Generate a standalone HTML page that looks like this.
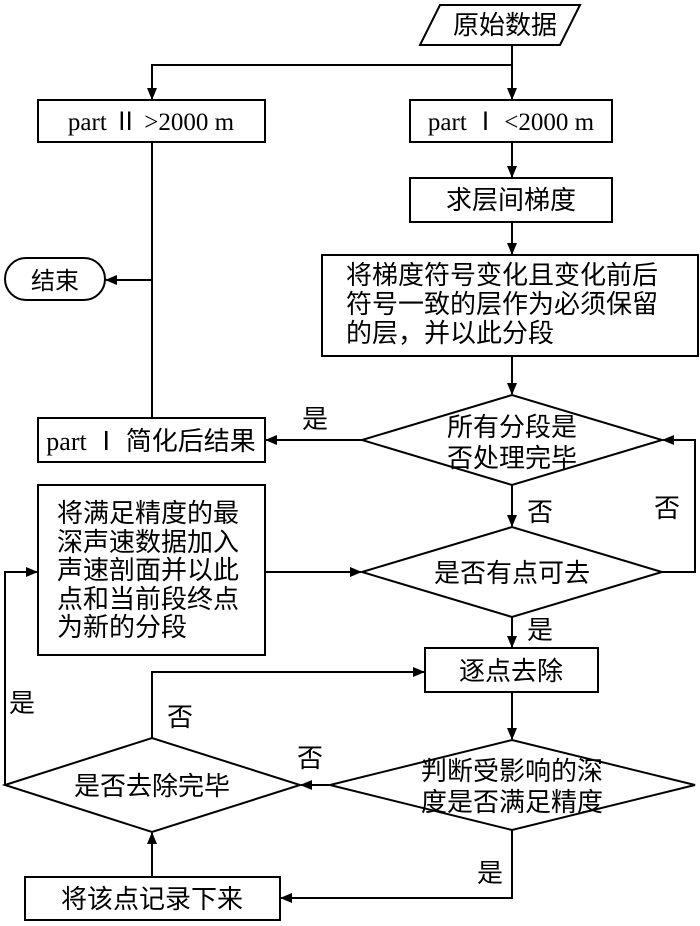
<!DOCTYPE html>
<html><head><meta charset="utf-8"><style>
body{margin:0;background:#fff}
svg text{font-family:"Liberation Serif","Noto Sans CJK SC",sans-serif;font-size:26px;fill:#000}
</style></head><body>
<svg width="700" height="921" viewBox="0 0 700 921" xmlns="http://www.w3.org/2000/svg">
<defs><marker id="a" markerWidth="12" markerHeight="10" refX="11" refY="5" orient="auto" markerUnits="userSpaceOnUse"><path d="M0,0 L12,5 L0,10 Z" fill="#000"/></marker></defs>
<g fill="none" stroke="#000" stroke-width="2">
<polygon points="440,5 580,5 560,45 420,45"/>
<rect x="38" y="100" width="227" height="42"/>
<rect x="410" y="100" width="202" height="42"/>
<rect x="410" y="178" width="202" height="44"/>
<rect x="322" y="255" width="376" height="101"/>
<rect x="5" y="258" width="100" height="42" rx="21"/>
<polygon points="362,440 512,395 662,440 512,485"/>
<rect x="38" y="418" width="227" height="44"/>
<polygon points="362,572 512,527 662,572 512,617"/>
<rect x="38" y="485" width="227" height="170"/>
<rect x="425" y="648" width="173" height="44"/>
<polygon points="330,785 512,740 695,785 512,830"/>
<polygon points="5,785 152,738 300,785 152,832"/>
<rect x="25" y="877" width="255" height="43"/>
<polyline points="512,45 512,65 152,65 152,99" marker-end="url(#a)"/>
<line x1="512" y1="65" x2="512" y2="99" marker-end="url(#a)"/>
<line x1="512" y1="142" x2="512" y2="177" marker-end="url(#a)"/>
<line x1="512" y1="222" x2="512" y2="254" marker-end="url(#a)"/>
<line x1="512" y1="356" x2="512" y2="394" marker-end="url(#a)"/>
<line x1="152" y1="142" x2="152" y2="418"/>
<line x1="152" y1="280" x2="106" y2="280" marker-end="url(#a)"/>
<line x1="362" y1="440" x2="266" y2="440" marker-end="url(#a)"/>
<polyline points="662,572 695,572 695,440 663,440" marker-end="url(#a)"/>
<line x1="512" y1="485" x2="512" y2="526" marker-end="url(#a)"/>
<line x1="265" y1="572" x2="361" y2="572" marker-end="url(#a)"/>
<line x1="512" y1="617" x2="512" y2="647" marker-end="url(#a)"/>
<line x1="512" y1="692" x2="512" y2="739" marker-end="url(#a)"/>
<polyline points="152,738 152,672 424,672" marker-end="url(#a)"/>
<line x1="330" y1="785" x2="301" y2="785" marker-end="url(#a)"/>
<polyline points="512,830 512,898 281,898" marker-end="url(#a)"/>
<line x1="152" y1="877" x2="152" y2="833" marker-end="url(#a)"/>
<polyline points="5,785 5,572 37,572" marker-end="url(#a)"/>
</g>
<g text-anchor="middle">
<text x="505" y="34">原始数据</text>
<text x="151" y="130" style="font-size:25px">part Ⅱ &gt;2000 m</text>
<text x="511" y="130" style="font-size:25px">part Ⅰ &lt;2000 m</text>
<text x="511" y="209">求层间梯度</text>
<text x="55" y="289" style="font-size:24px">结束</text>
<text x="512" y="436">所有分段是</text>
<text x="512" y="467">否处理完毕</text>
<text x="151" y="450">part Ⅰ 简化后结果</text>
<text x="512" y="582">是否有点可去</text>
<text x="511" y="680">逐点去除</text>
<text x="512" y="780">判断受影响的深</text>
<text x="512" y="811">度是否满足精度</text>
<text x="152" y="795">是否去除完毕</text>
<text x="152" y="908">将该点记录下来</text>
<text x="315" y="428">是</text>
<text x="540" y="521">否</text>
<text x="667" y="517">否</text>
<text x="540" y="639">是</text>
<text x="180" y="726">否</text>
<text x="310" y="767">否</text>
<text x="22" y="712">是</text>
<text x="490" y="882">是</text>
</g>
<g text-anchor="start">
<text x="346" y="284">将梯度符号变化且变化前后</text>
<text x="346" y="313">符号一致的层作为必须保留</text>
<text x="346" y="342">的层，并以此分段</text>
<text x="57" y="522">将满足精度的最</text>
<text x="57" y="551">深声速数据加入</text>
<text x="57" y="579">声速剖面并以此</text>
<text x="57" y="608">点和当前段终点</text>
<text x="57" y="636">为新的分段</text>
</g>
</svg>
</body></html>
